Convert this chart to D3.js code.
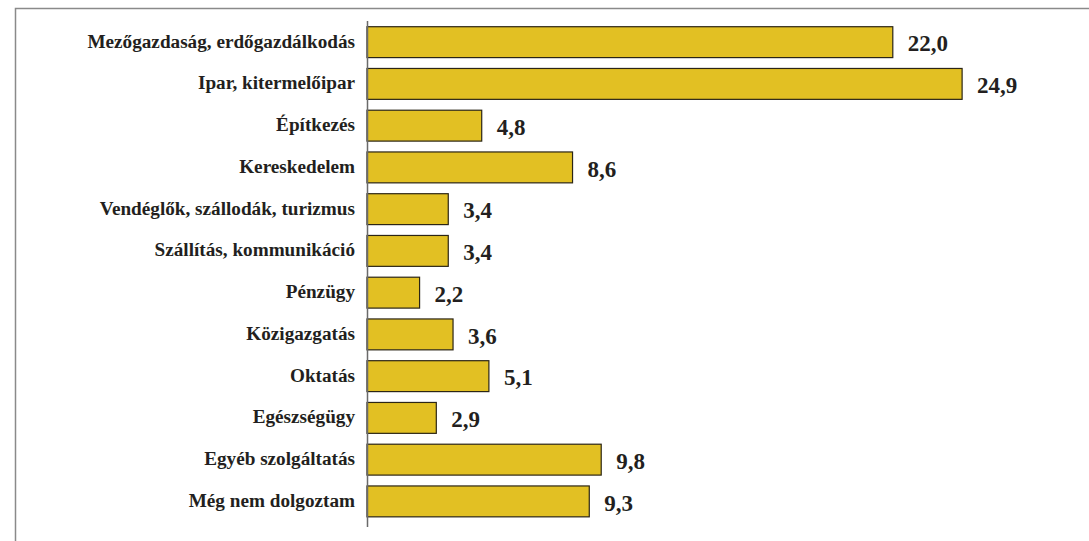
<!DOCTYPE html>
<html><head><meta charset="utf-8">
<script src="https://cdn.jsdelivr.net/npm/d3@7"></script>
<style>html,body{margin:0;padding:0;background:#fff;}svg{display:block;}</style>
</head><body>
<script>
const categories = ["Mezőgazdaság, erdőgazdálkodás","Ipar, kitermelőipar","Építkezés","Kereskedelem","Vendéglők, szállodák, turizmus","Szállítás, kommunikáció","Pénzügy","Közigazgatás","Oktatás","Egészségügy","Egyéb szolgáltatás","Még nem dolgoztam"];
const values = [22.0,24.9,4.8,8.6,3.4,3.4,2.2,3.6,5.1,2.9,9.8,9.3];
const valueLabels = ["22,0","24,9","4,8","8,6","3,4","3,4","2,2","3,6","5,1","2,9","9,8","9,3"];

const W=1089,H=541;
const svg=d3.select("body").append("svg").attr("width",W).attr("height",H);
// frame
svg.append("path").attr("d","M15.5,541 L15.5,8.5 L1089,8.5").attr("fill","none").attr("stroke","#8a8a8a").attr("stroke-width",1.5);

const x0=367;
const x=d3.scaleLinear().domain([0,25]).range([x0,x0+25*23.9]);
const y=d3.scaleBand().domain(categories).range([21,527]).paddingInner(0.26).paddingOuter(0.19).align(0.36);

const fontSerif='"Liberation Serif","DejaVu Serif",serif';
const data=categories.map((c,i)=>({c,v:values[i],l:valueLabels[i]}));

svg.selectAll("rect.bar").data(data).enter().append("rect").attr("class","bar")
 .attr("x",x(0)).attr("y",d=>y(d.c)).attr("width",d=>x(d.v)-x(0)).attr("height",y.bandwidth())
 .attr("fill","#e2c023").attr("stroke","#2b2515").attr("stroke-width",1.2);

// axis line
const yAxis=d3.axisLeft(y).tickSize(0).tickPadding(12);
const ag=svg.append("g").attr("transform",`translate(${x0},0)`).call(yAxis);
ag.select(".domain").attr("d","M0.5,21V527").attr("stroke","#6a6a6a").attr("stroke-width",1.5);
ag.selectAll("text").attr("font-family",fontSerif).attr("font-weight","bold").attr("font-size",19.2).attr("fill","#231f20").attr("dy","0.28em");

svg.selectAll("text.val").data(data).enter().append("text").attr("class","val")
 .attr("x",d=>x(d.v)+15).attr("y",d=>y(d.c)+y.bandwidth()/2+1).attr("dy","0.36em")
 .attr("font-family",fontSerif).attr("font-weight","bold").attr("font-size",23).attr("fill","#231f20")
 .text(d=>d.l);
</script>
</body></html>
